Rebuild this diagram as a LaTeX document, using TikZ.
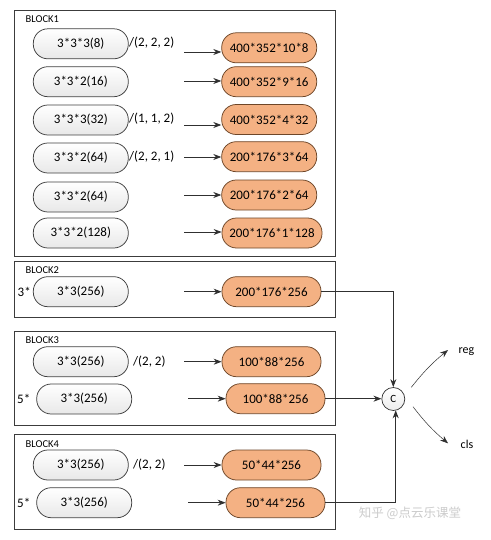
\documentclass[tikz,border=0pt]{standalone}
\usepackage{fontspec}
\setmainfont{Carlito}
\newfontfamily\cjk{Noto Sans CJK SC}
\usetikzlibrary{arrows.meta}
\definecolor{pillborder}{HTML}{404040}
\definecolor{orangefill}{HTML}{F4B183}
\definecolor{orangeborder}{HTML}{6E4628}
\definecolor{boxborder}{HTML}{3C3C3C}
\definecolor{linecol}{HTML}{303030}
\begin{document}
\begin{tikzpicture}[x=1pt,y=-1pt,
  lpill/.style={draw=pillborder, line width=0.75pt, rounded corners=14.5pt,
    minimum width=95pt, minimum height=30pt, top color=white, bottom color=gray!18,
    font=\fontsize{13}{15}\selectfont, inner sep=0pt},
  rpill/.style={draw=orangeborder, line width=0.75pt, rounded corners=14.5pt,
    minimum height=30pt, fill=orangefill, font=\fontsize{13}{15}\selectfont, inner sep=0pt},
  blockbox/.style={draw=boxborder, line width=0.9pt},
  blabel/.style={font=\fontsize{10.5}{12}\selectfont, anchor=base west, inner sep=0pt},
  note/.style={font=\fontsize{13}{15}\selectfont, anchor=west, inner sep=0pt},
  conn/.style={draw=linecol, line width=0.8pt, -{Stealth[length=8pt,width=6pt]}},
  thinconn/.style={draw=linecol, line width=0.5pt, -{Stealth[length=8pt,width=6pt]}},
  outtext/.style={font=\fontsize{12}{14}\selectfont, anchor=base west, inner sep=0pt},
]
\useasboundingbox (0,0) rectangle (490,540);
\fill[white] (0,0) rectangle (490,540);

% ---------- BLOCK1 ----------
\draw[blockbox] (14,10) rectangle (335,256);
\node[blabel] (bl1) at (25.5,22.5) {BLOCK1};

\node[lpill] (l11) at (80.8,43.8) {3*3*3(8)};
\node[lpill] (l12) at (80.8,81.7) {3*3*2(16)};
\node[lpill] (l13) at (80.8,120) {3*3*3(32)};
\node[lpill] (l14) at (80.8,158) {3*3*2(64)};
\node[lpill] (l15) at (80.8,197) {3*3*2(64)};
\node[lpill] (l16) at (80.8,233) {3*3*2(128)};

\node[note] (n11) at (129,43) {/(2, 2, 2)};
\node[note] (n13) at (129,119) {/(1, 1, 2)};
\node[note] (n14) at (129,157) {/(2, 2, 1)};

\node[rpill, minimum width=95pt] (r11) at (269.2,47.8) {400*352*10*8};
\node[rpill, minimum width=95pt] (r12) at (269.2,81.7) {400*352*9*16};
\node[rpill, minimum width=95pt] (r13) at (269.2,119.5) {400*352*4*32};
\node[rpill, minimum width=95pt] (r14) at (269.2,156.7) {200*176*3*64};
\node[rpill, minimum width=95pt] (r15) at (269.2,195) {200*176*2*64};
\node[rpill, minimum width=100pt] (r16) at (272,233) {200*176*1*128};

\coordinate (s11) at (184,52);
\coordinate (s12) at (184,81);
\coordinate (s13) at (184,125);
\coordinate (s14) at (184,157);
\coordinate (s15) at (184,195);
\coordinate (s16) at (184,232);
\foreach \i in {1,...,6}{
  \draw[conn] (s1\i) -- (s1\i -| r1\i.west);
}

% ---------- BLOCK2 ----------
\draw[blockbox] (14,261) rectangle (335,317);
\node[blabel] (bl2) at (25.5,273.5) {BLOCK2};
\node[note] (m21) at (17.5,291.5) {3*};
\node[lpill] (l21) at (80.8,291.7) {3*3(256)};
\node[rpill, minimum width=99pt] (r21) at (271.5,291.7) {200*176*256};
\coordinate (s21) at (184,291.7);
\draw[conn] (s21) -- (r21.west);

% ---------- BLOCK3 ----------
\draw[blockbox] (14,331) rectangle (335,425);
\node[blabel] (bl3) at (25.5,343.5) {BLOCK3};
\node[lpill] (l31) at (80.8,361.7) {3*3(256)};
\node[note] (n31) at (133,361.5) {/(2, 2)};
\node[rpill, minimum width=99pt] (r31) at (271.5,361.7) {100*88*256};
\node[note] (m32) at (17,399) {5*};
\node[lpill] (l32) at (84.2,399) {3*3(256)};
\node[rpill, minimum width=99pt] (r32) at (275.5,398.7) {100*88*256};
\coordinate (s31) at (184,361.7);
\coordinate (s32) at (188,398.7);
\draw[conn] (s31) -- (r31.west);
\draw[conn] (s32) -- (r32.west);

% ---------- BLOCK4 ----------
\draw[blockbox] (14,434) rectangle (335,529.3);
\node[blabel] (bl4) at (25.5,447.5) {BLOCK4};
\node[lpill] (l41) at (80.8,465) {3*3(256)};
\node[note] (n41) at (133,464.8) {/(2, 2)};
\node[rpill, minimum width=99pt] (r41) at (271.5,465) {50*44*256};
\node[note] (m42) at (17,502.7) {5*};
\node[lpill] (l42) at (84.2,502.7) {3*3(256)};
\node[rpill, minimum width=99pt] (r42) at (275.5,502.7) {50*44*256};
\coordinate (s41) at (184,465);
\coordinate (s42) at (188,502.7);
\draw[conn] (s41) -- (r41.west);
\draw[conn] (s42) -- (r42.west);

% ---------- Concat ----------
\node[circle, draw=linecol, line width=0.7pt, minimum size=23pt, inner sep=0pt,
  top color=white, bottom color=gray!15, font=\fontsize{11}{12}\selectfont] (C) at (393.3,399) {C};
\draw[conn] (r21.east) -| (C.north);
\draw[conn] (r32.east) -- (r32.east -| C.west);
\coordinate (cb) at (395.7,410.3);
\draw[conn] (r42.east) -| (cb);

\node[outtext] (reg) at (458.5,353.5) {reg};
\node[outtext] (cls) at (460.5,448.3) {cls};
\coordinate (regS) at (411.3,387.3);
\coordinate (regE) at (448,350);
\coordinate (clsS) at (413,406.7);
\coordinate (clsE) at (448,443.3);
\draw[thinconn] (regS) to[bend left=6] (regE);
\draw[thinconn] (clsS) to[bend right=6] (clsE);

% watermark
\node[font=\cjk\fontsize{12.5}{14}\selectfont, text=gray!40, inner sep=0pt] (wm) at (410,513) {知乎 @点云乐课堂};
\end{tikzpicture}
\end{document}
